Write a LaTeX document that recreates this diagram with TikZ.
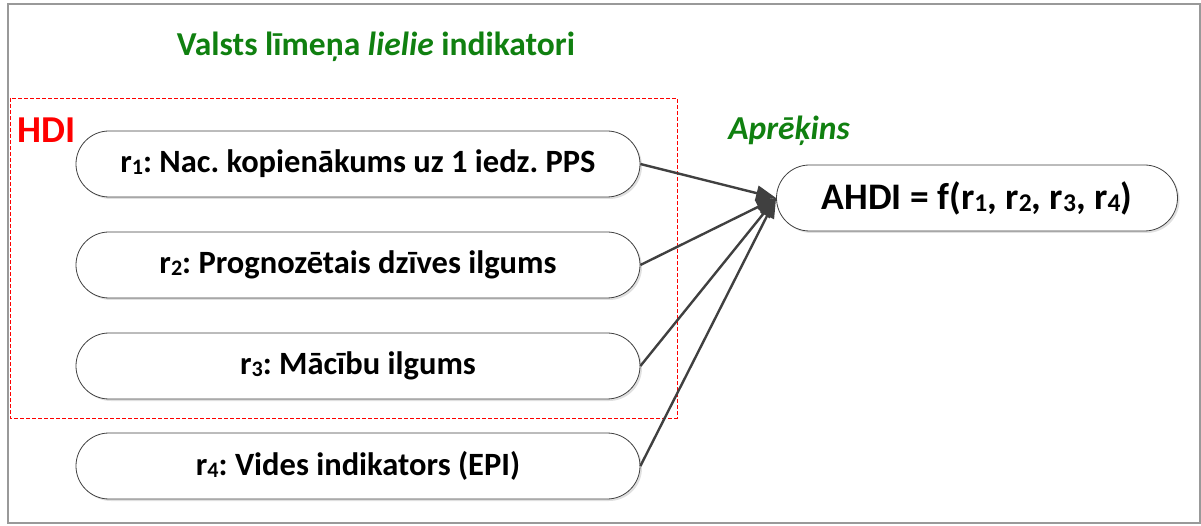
\documentclass[tikz,border=0pt]{standalone}
\usepackage{fontspec}
\usepackage{graphicx}
\setmainfont{Carlito}
\usetikzlibrary{arrows.meta,shadows}
\frenchspacing
\definecolor{titlegreen}{RGB}{16,128,16}
\definecolor{linegray}{RGB}{64,64,64}
\newcommand\sbs[1]{\raisebox{-0.06em}{\scalebox{0.68}{#1}}}
\tikzset{
  pill/.style={draw=linegray, line width=0.8bp, fill=white, rounded corners=#1,
    font=\fontsize{32.5bp}{36bp}\selectfont\bfseries\frenchspacing, inner sep=0pt,
    drop shadow={shadow xshift=2bp, shadow yshift=-2bp, opacity=0.12, fill=black}},
  rbox/.style={pill=33bp, minimum width=564bp, minimum height=66bp},
  conn/.style={draw=linegray, line width=2.4bp, -{Triangle[length=20bp,width=15bp]}},
}
\begin{document}
\begin{tikzpicture}[x=1bp,y=-1bp]
\useasboundingbox (0,0) rectangle (1201,526);
% outer frame
\draw[gray!80, line width=1.2bp] (8,4) rectangle (1200,523);
% HDI region
\draw[red, line width=0.9bp, dash pattern=on 4bp off 2bp] (10,98) rectangle (677,418);
\node[text=titlegreen, font=\fontsize{33.5bp}{36bp}\selectfont\bfseries] (title) at (376,47) {Valsts līmeņa \textit{lielie} indikatori};
\node[text=red, font=\fontsize{38bp}{42bp}\selectfont\bfseries] (hdi) at (47,130) {HDI};
\node[text=titlegreen, font=\fontsize{33.5bp}{36bp}\selectfont\bfseries\itshape] (apr) at (789,131) {Aprēķins};
\node[rbox] (r1) at (358,164) {r\sbs{1}: Nac. kopienākums uz 1 iedz. PPS};
\node[rbox] (r2) at (358,265) {r\sbs{2}: Prognozētais dzīves ilgums};
\node[rbox] (r3) at (358,366) {r\sbs{3}: Mācību ilgums};
\node[rbox] (r4) at (358,466) {r\sbs{4}: Vides indikators (EPI)};
\node[pill=33bp, minimum width=401bp, minimum height=66bp, font=\fontsize{37.5bp}{40bp}\selectfont\bfseries\frenchspacing] (ahdi) at (977,198) {AHDI = f(r\sbs{1}, r\sbs{2}, r\sbs{3}, r\sbs{4})};
\draw[conn] (r1.east) -- (ahdi.west);
\draw[conn] (r2.east) -- (ahdi.west);
\draw[conn] (r3.east) -- (ahdi.west);
\draw[conn] (r4.east) -- (ahdi.west);
\end{tikzpicture}
\end{document}
